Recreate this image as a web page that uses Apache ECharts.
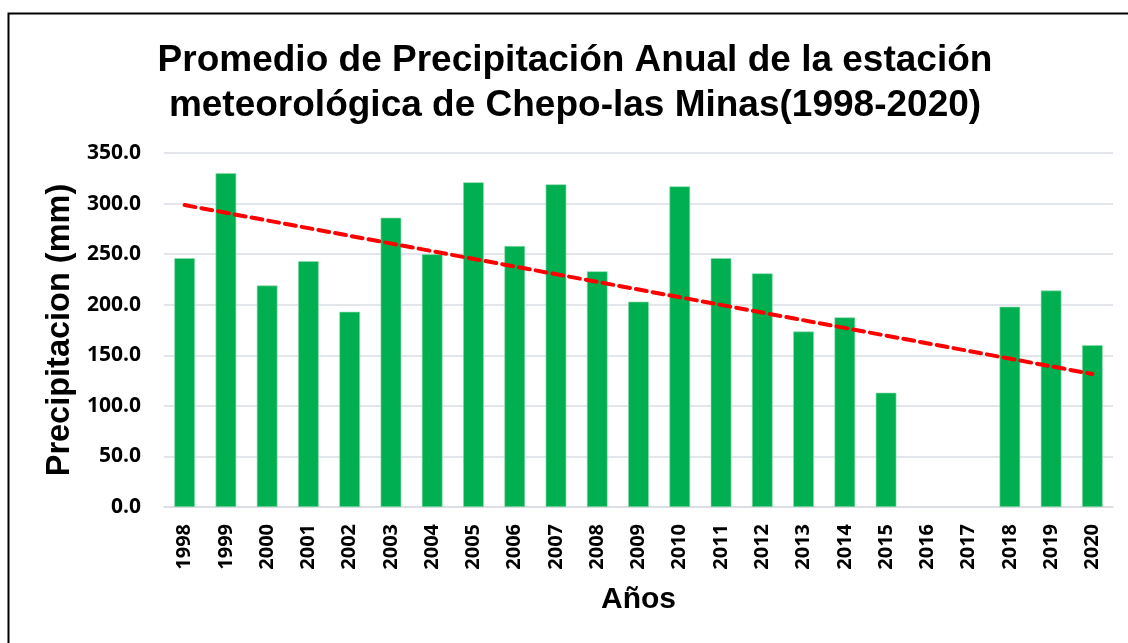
<!DOCTYPE html>
<html>
<head>
<meta charset="utf-8">
<script src="https://cdn.jsdelivr.net/npm/echarts@6/dist/echarts.min.js"></script>
<style>
  html, body { margin: 0; padding: 0; background: #fff; }
  #chart { width: 1128px; height: 643px; }
</style>
</head>
<body>
<div id="chart"></div>
<script>
  // años (categorías)
  const years = ['1998', '1999', '2000', '2001', '2002', '2003', '2004', '2005',
    '2006', '2007', '2008', '2009', '2010', '2011', '2012', '2013', '2014',
    '2015', '2016', '2017', '2018', '2019', '2020']
  // precipitación promedio anual (mm), 2016 y 2017 sin dato
  const precipitacion = [246, 330, 219, 243, 193, 286, 250, 321, 258, 319, 233,
    203, 317, 246, 231, 173.5, 187.5, 113, null, null, 198, 214, 160]
  // línea de tendencia: extremos
  const trendYears = ['1998', '2020']
  const trendValues = [298.5, 131.5]
  // eje y
  const yTicks = [0, 50, 100, 150, 200, 250, 300, 350]

  const chart = echarts.init(document.getElementById('chart'))

  const labelFont = {
    fontFamily: 'Open Sans',
    fontWeight: 'bold',
    fontSize: 21,
    color: '#000'
  }

  const option = {
    backgroundColor: '#fff',
    animation: false,
    // marco del gráfico
    graphic: [{
      type: 'rect',
      shape: { x: 8.5, y: 13.5, width: 1130, height: 640 },
      style: { fill: null, stroke: '#000', lineWidth: 2 }
    }],
    title: {
      text: 'Promedio de Precipitación Anual de la estación\nmeteorológica de Chepo-las Minas(1998-2020)',
      left: 575,
      top: 38,
      padding: 0,
      textAlign: 'center',
      textStyle: {
        fontFamily: 'Liberation Sans',
        fontWeight: 'bold',
        fontSize: 37,
        lineHeight: 45,
        color: '#000'
      }
    },
    grid: {
      left: 164,
      right: 15,
      top: 153,
      bottom: 136
    },
    xAxis: {
      type: 'category',
      data: years,
      name: 'Años',
      nameLocation: 'middle',
      nameGap: 78,
      nameTextStyle: {
        fontFamily: 'Liberation Sans',
        fontWeight: 'bold',
        fontSize: 30,
        color: '#000'
      },
      axisLine: { show: true, lineStyle: { color: '#d9dde3', width: 1.5 } },
      axisTick: { show: false },
      axisLabel: Object.assign({ rotate: 90, interval: 0, margin: 17 }, labelFont, { fontSize: 20 })
    },
    yAxis: {
      type: 'value',
      min: yTicks[0],
      max: yTicks[yTicks.length - 1],
      interval: 50,
      name: 'Precipitacion (mm)',
      nameLocation: 'middle',
      nameGap: 87,
      nameTextStyle: {
        fontFamily: 'Liberation Sans',
        fontWeight: 'bold',
        fontSize: 32.5,
        color: '#000'
      },
      axisLine: { show: false },
      axisTick: { show: false },
      splitLine: { lineStyle: { color: '#d9dde3', width: 1.5 } },
      axisLabel: Object.assign({
        margin: 23,
        formatter: v => v.toFixed(1)
      }, labelFont)
    },
    series: [
      {
        type: 'bar',
        data: precipitacion.map(v => (v === null ? '-' : v)),
        barWidth: '50%',
        itemStyle: {
          color: '#00b050',
          borderColor: '#8fdcb0',
          borderWidth: 0.6
        }
      },
      {
        type: 'line',
        data: trendYears.map((y, i) => [y, trendValues[i]]),
        symbol: 'none',
        lineStyle: {
          color: '#ff0000',
          width: 4,
          type: [11, 6],
          cap: 'round'
        },
        z: 5
      }
    ]
  }

  chart.setOption(option)
</script>
</body>
</html>
